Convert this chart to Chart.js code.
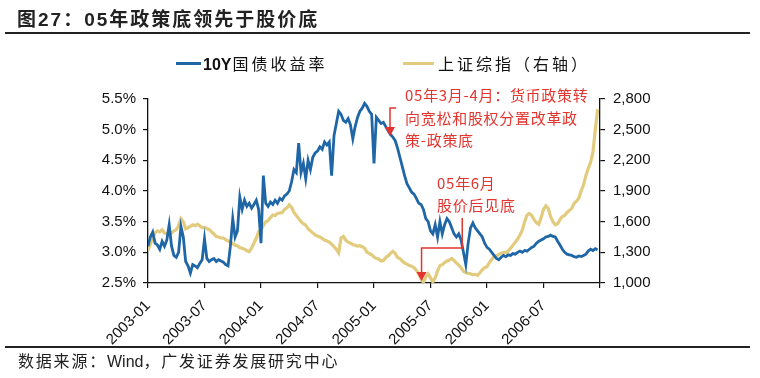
<!DOCTYPE html>
<html><head><meta charset="utf-8">
<script src="https://cdn.jsdelivr.net/npm/chart.js@4/dist/chart.umd.min.js"></script>
<style>
html,body{margin:0;padding:0;background:#fff;}
#wrap{position:relative;width:760px;height:378px;overflow:hidden;background:#fff;font-family:"Liberation Sans","Noto Sans CJK SC",sans-serif;}
#c{position:absolute;left:0;top:0;}
.title{position:absolute;left:17px;top:7px;font-size:19px;font-weight:bold;letter-spacing:2px;color:#222;line-height:26px;white-space:nowrap;}
.rule{position:absolute;left:5px;width:745px;background:#222;}
.leg{position:absolute;top:54px;font-size:16px;line-height:22px;color:#111;white-space:nowrap;letter-spacing:3px;}
.leg b{letter-spacing:0;margin-right:1px;}
.sw{position:absolute;height:3px;top:62px;}
.src{position:absolute;left:18px;top:351px;font-size:16px;line-height:22px;color:#222;white-space:nowrap;letter-spacing:1.8px;}
.src span{letter-spacing:0;}
</style></head>
<body>
<div id="wrap">
  <canvas id="c" width="760" height="378"></canvas>
  <div class="title">图27：05年政策底领先于股价底</div>
  <div class="rule" style="top:32px;height:2px;"></div>
  <div class="sw" style="left:176px;width:25px;background:#1F66A6;"></div>
  <div class="leg" style="left:203px;"><b>10Y</b>国债收益率</div>
  <div class="sw" style="left:403px;width:31px;background:#E2CB7C;"></div>
  <div class="leg" style="left:438px;">上证综指（右轴）</div>
  <div class="rule" style="top:346px;height:1.5px;"></div>
  <div class="src">数据来源：<span>Wind</span>，广发证券发展研究中心</div>
</div>
<script>
// x axis: months since 2003-01, one value every quarter month
const STEP = 0.25;
const tickLabels = ['2003-01','2003-07','2004-01','2004-07','2005-01','2005-07','2006-01','2006-07'];
const yLeftTicks = ['2.5%','3.0%','3.5%','4.0%','4.5%','5.0%','5.5%'];

// 10Y treasury yield (%), left axis
const bondYield = [
 3.10,3.25,3.33,3.15, 3.12,3.05,3.18,3.10, 3.20,3.45,3.10,2.95, 2.92,3.00,3.42,3.25,
 2.85,2.78,2.66,2.80, 2.78,2.75,2.82,2.88, 3.22,2.90,2.85,2.88, 2.90,2.85,2.88,2.86,
 2.84,2.80,2.78,3.10, 3.55,3.25,3.35,3.90, 3.70,3.85,3.75,3.80, 3.72,3.78,3.85,3.70,
 3.15,4.25,3.80,3.75, 3.82,3.78,3.85,3.80, 3.88,3.85,3.92,3.95, 4.00,4.15,4.35,4.30,
 4.78,4.30,4.45,4.20, 4.50,4.35,4.55,4.62, 4.65,4.72,4.68,4.80, 4.75,4.80,4.25,4.90,
 5.10,5.30,5.25,5.15, 5.12,5.18,5.08,4.85, 5.05,5.20,5.30,5.35, 5.43,5.38,5.30,5.25,
 4.45,5.20,5.15,5.10, 5.12,5.05,4.98,4.92, 4.88,4.82,4.70,4.55, 4.40,4.25,4.12,4.05,
 3.98,3.95,3.88,3.80, 3.78,3.70,3.55,3.50, 3.35,3.30,3.45,3.25, 3.50,3.30,3.45,3.55,
 3.50,3.40,3.30,3.25, 3.30,3.20,3.00,2.80, 3.15,3.40,3.48,3.40, 3.35,3.30,3.25,3.15,
 3.08,3.05,3.00,2.95, 2.90,2.88,2.92,2.95, 2.93,2.96,2.95,2.98, 2.97,3.00,3.02,3.00,
 3.03,3.02,3.05,3.08, 3.10,3.15,3.18,3.20, 3.22,3.25,3.26,3.28, 3.26,3.25,3.18,3.12,
 3.05,3.00,2.97,2.96, 2.95,2.93,2.92,2.94, 2.93,2.95,2.97,3.02, 3.05,3.03,3.06,3.04
];

// Shanghai Composite, right axis
const sseIndex = [
 1320,1380,1440,1490, 1510,1500,1520,1490, 1480,1495,1490,1510, 1520,1560,1630,1600,
 1530,1540,1555,1570, 1560,1575,1560,1540, 1545,1530,1525,1500, 1480,1455,1450,1440,
 1440,1425,1410,1400, 1385,1370,1365,1345, 1340,1330,1315,1307, 1340,1390,1440,1500,
 1520,1560,1600,1610, 1640,1665,1660,1680, 1685,1690,1720,1735, 1765,1740,1690,1660,
 1630,1600,1580,1565, 1530,1510,1490,1470, 1460,1450,1435,1420, 1410,1400,1380,1355,
 1330,1295,1440,1455, 1420,1400,1390,1375, 1370,1360,1365,1355, 1340,1300,1290,1275,
 1255,1240,1235,1215, 1220,1250,1265,1290, 1310,1290,1250,1240, 1215,1195,1185,1170,
 1165,1150,1125,1090, 1040,1005,1060,1090, 1050,1010,1050,1120, 1170,1180,1200,1215,
 1225,1240,1220,1195, 1175,1150,1115,1100, 1095,1090,1080,1085, 1075,1100,1130,1150,
 1160,1200,1230,1260, 1265,1280,1290,1300, 1300,1310,1340,1370, 1400,1430,1470,1520,
 1600,1665,1680,1660, 1620,1590,1575,1640, 1720,1755,1730,1650, 1600,1570,1580,1620,
 1650,1660,1690,1710, 1730,1780,1800,1830, 1900,1960,2050,2120, 2180,2280,2500,2700
];

const RED = '#E2352F';
// annotation anchors in data units (x: months, y: % on left axis)
const notes = [
  {x:27.3, lines:[['05年3月-4月：货币政策转',5.565],['向宽松和股权分置改革政',5.19],['策-政策底',4.832]]},
  {x:30.7, lines:[['05年6月',4.13],['股价后见底',3.772]]}
];

const annoPlugin = {
  id:'anno',
  afterDatasetsDraw(chart){
    const {ctx, scales:{x, y}} = chart;
    ctx.save();
    ctx.fillStyle = RED; ctx.strokeStyle = RED; ctx.lineWidth = 1.5;
    ctx.font = '15px "Noto Sans CJK SC", "Liberation Sans", sans-serif';
    ctx.textBaseline = 'middle'; ctx.textAlign = 'left';
    try { ctx.letterSpacing = '0.7px'; } catch(e) {}
    notes.forEach(n => n.lines.forEach(([t, v]) => ctx.fillText(t, x.getPixelForValue(n.x), y.getPixelForValue(v))));
    const head = (px, py) => { ctx.beginPath(); ctx.moveTo(px-5, py-9); ctx.lineTo(px+5, py-9); ctx.lineTo(px, py); ctx.closePath(); ctx.fill(); };
    // arrow 1
    let ax = x.getPixelForValue(25.7), ax2 = x.getPixelForValue(26.35);
    let ay1 = y.getPixelForValue(5.353), ay2 = y.getPixelForValue(4.897);
    ctx.beginPath(); ctx.moveTo(ax2, ay1); ctx.lineTo(ax, ay1); ctx.lineTo(ax, ay2-8); ctx.stroke();
    head(ax, ay2);
    // arrow 2
    let bx1 = x.getPixelForValue(33.37), bx2 = x.getPixelForValue(29.05);
    let by1 = y.getPixelForValue(3.56), by2 = y.getPixelForValue(3.071), by3 = y.getPixelForValue(2.533);
    ctx.beginPath(); ctx.moveTo(bx1, by1); ctx.lineTo(bx1, by2); ctx.lineTo(bx2, by2); ctx.lineTo(bx2, by3-8); ctx.stroke();
    head(bx2, by3);
    ctx.restore();
  }
};

const axisFont = {family:'"Liberation Sans", Arial, sans-serif', size:15};
new Chart(document.getElementById('c'), {
  type:'line',
  data:{
    datasets:[
      {label:'10Y国债收益率', data:bondYield.map((v,i)=>({x:i*STEP, y:v})), yAxisID:'y',
       borderColor:'#1F66A6', borderWidth:2.8, pointRadius:0, tension:0, fill:false},
      {label:'上证综指（右轴）', data:sseIndex.map((v,i)=>({x:i*STEP, y:v})), yAxisID:'y1',
       borderColor:'#E2CB7C', borderWidth:3.2, pointRadius:0, tension:0, fill:false}
    ]
  },
  options:{
    responsive:false, animation:false, devicePixelRatio:1,
    layout:{padding:{top:99, left:0, right:0, bottom:0}},
    plugins:{legend:{display:false}, tooltip:{enabled:false}},
    scales:{
      x:{type:'linear', min:0, max:48,
         afterBuildTicks:s=>{ s.ticks = [0,6,12,18,24,30,36,42,48].map(v=>({value:v})); },
         afterFit:s=>{ s.height = 95; },
         ticks:{callback:v=>tickLabels[v/6] || '', autoSkip:false, minRotation:45, maxRotation:45,
                font:{family:axisFont.family, size:15}, color:'#111', padding:9},
         grid:{drawOnChartArea:false, tickLength:5, color:'#111', lineWidth:1.2},
         border:{color:'#111', width:1.3}},
      y:{position:'left', min:2.5, max:5.5,
         afterBuildTicks:s=>{ s.ticks = yLeftTicks.map((t,i)=>({value:2.5+0.5*i})); },
         afterFit:s=>{ s.width = 148; },
         ticks:{callback:(v,i)=>yLeftTicks[i], font:axisFont, color:'#111', padding:7},
         grid:{drawOnChartArea:false, tickLength:5, color:'#111', lineWidth:1.2},
         border:{color:'#111', width:1.3}},
      y1:{position:'right', min:1000, max:2800,
         afterBuildTicks:s=>{ s.ticks = [1000,1300,1600,1900,2200,2500,2800].map(v=>({value:v})); },
         afterFit:s=>{ s.width = 160; },
         ticks:{callback:v=>v.toLocaleString('en-US'), font:axisFont, color:'#111', padding:8},
         grid:{drawOnChartArea:false, tickLength:5, color:'#111', lineWidth:1.2},
         border:{color:'#111', width:1.3}}
    }
  },
  plugins:[annoPlugin]
});
</script>
</body></html>
